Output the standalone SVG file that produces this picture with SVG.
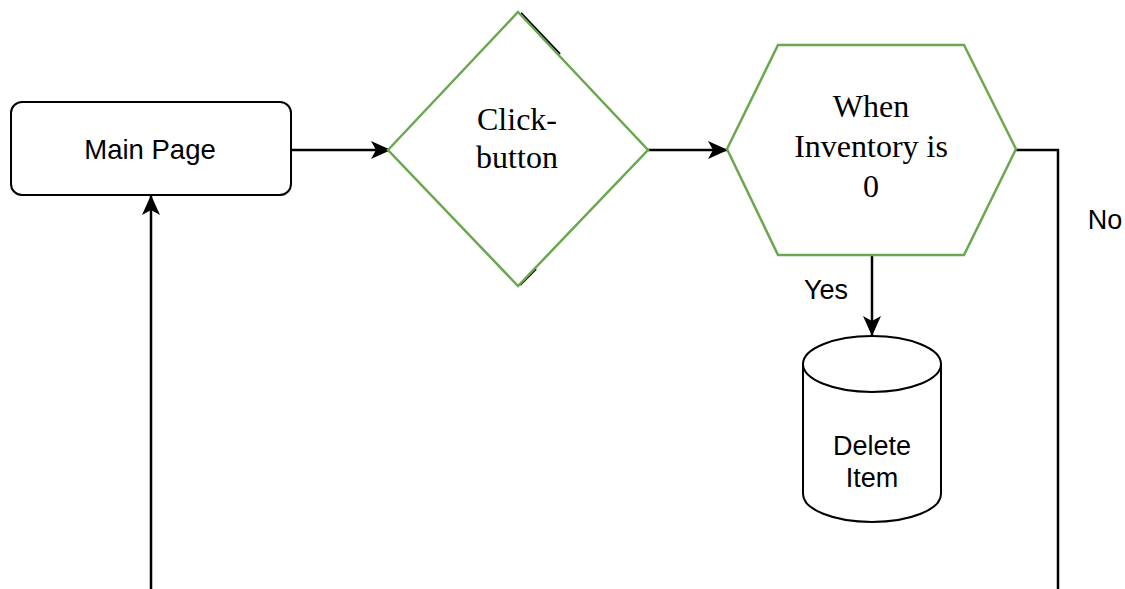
<svg xmlns="http://www.w3.org/2000/svg" width="1125" height="589" viewBox="0 0 1125 589">
  <style>
    .box { fill: #ffffff; stroke: #000000; stroke-width: 2; }
    .green { fill: #ffffff; stroke: #6aa84f; stroke-width: 2.5; }
    .edge { fill: none; stroke: #000000; stroke-width: 2.5; }
    .sans { font-family: "Liberation Sans", Arial, sans-serif; fill: #000000; }
    .serif { font-family: "Liberation Serif", "Times New Roman", serif; fill: #000000; }
  </style>
  <defs>
    <marker id="arrow" viewBox="0 0 20 18" refX="19" refY="9" markerWidth="20" markerHeight="18" markerUnits="userSpaceOnUse" orient="auto">
      <path d="M0,0 L20,9 L0,18 L5,9 Z" fill="#000000"/>
    </marker>
  </defs>
  <rect width="1125" height="589" fill="#ffffff"/>

  <!-- connectors -->
  <g id="connectors">
    <path class="edge" d="M291,150 L390,150" marker-end="url(#arrow)"/>
    <path class="edge" d="M648,150 L727,150" marker-end="url(#arrow)"/>
    <path class="edge" d="M872,256 L872,335" marker-end="url(#arrow)"/>
    <path class="edge" d="M1016,150 L1058,150 L1058,589"/>
    <path class="edge" d="M151,589 L151,196" marker-end="url(#arrow)"/>
    <text class="sans" x="826" y="299" font-size="27" text-anchor="middle">Yes</text>
    <text class="sans" x="1105" y="229" font-size="27" text-anchor="middle">No</text>
  </g>

  <!-- Main Page -->
  <g id="main-page">
    <rect class="box" x="11" y="102" width="280" height="93" rx="11" ry="11"/>
    <text class="sans" x="150" y="159" font-size="27.5" text-anchor="middle">Main Page</text>
  </g>

  <!-- Click-button decision -->
  <g id="click-button">
    <path d="M521,13 L560,54 M520,285 L536,269" fill="none" stroke="#000000" stroke-width="2"/>
    <polygon class="green" points="388,150 518,12 648,150 518,286"/>
    <text class="serif" x="517" y="130" font-size="32" text-anchor="middle">Click-</text>
    <text class="serif" x="517" y="168" font-size="32" text-anchor="middle">button</text>
  </g>

  <!-- Inventory check -->
  <g id="inventory-check">
    <polygon class="green" points="727,149 778,45 964,45 1016,149 964,255 778,255"/>
    <text class="serif" x="871" y="117" font-size="32" text-anchor="middle">When</text>
    <text class="serif" x="871" y="157" font-size="32" text-anchor="middle">Inventory is</text>
    <text class="serif" x="871" y="197" font-size="32" text-anchor="middle">0</text>
  </g>

  <!-- Delete Item store -->
  <g id="delete-item">
    <path class="box" d="M803,364 A69,28 0 0 1 941,364 L941,494 A69,28 0 0 1 803,494 Z"/>
    <path class="box" d="M803,364 A69,28 0 0 0 941,364" fill="none"/>
    <text class="sans" x="872" y="455" font-size="27" text-anchor="middle">Delete</text>
    <text class="sans" x="872" y="487" font-size="27" text-anchor="middle">Item</text>
  </g>
</svg>
